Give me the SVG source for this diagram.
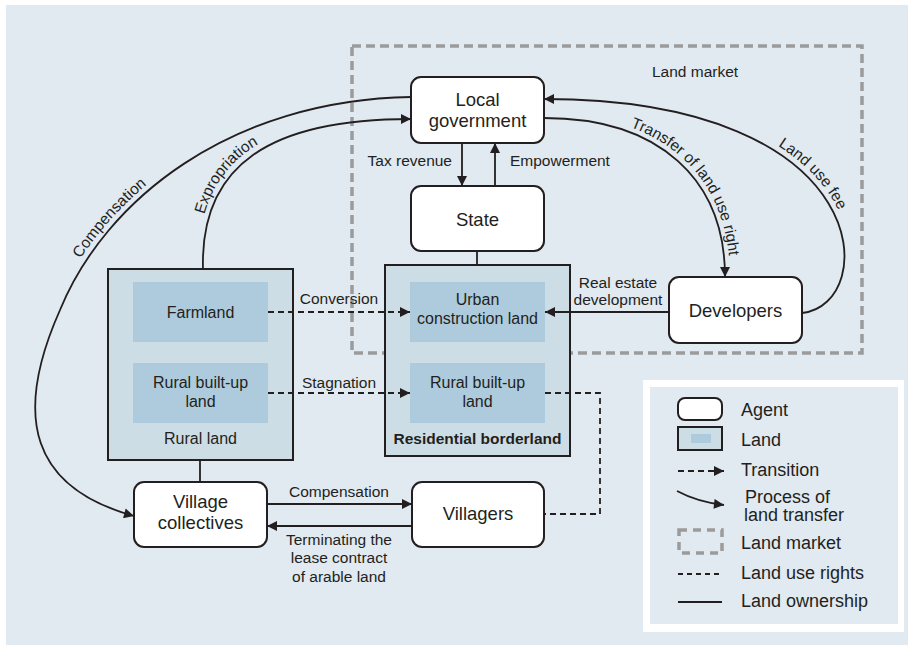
<svg xmlns="http://www.w3.org/2000/svg" width="908" height="645" viewBox="0 0 908 645">
<style>
  text { font-family: "Liberation Sans", Arial, sans-serif; fill: #231f20; }
  .nl { font-size: 18.5px; text-anchor: middle; }
  .ll { font-size: 16px; text-anchor: middle; }
  .el { font-size: 15.5px; }
  .lg { font-size: 18px; }
  .node { fill: #ffffff; stroke: #231f20; stroke-width: 2; }
  .land { fill: #cddde6; stroke: #231f20; stroke-width: 2; }
  .inner { fill: #adcbdc; }
  .conn { fill: none; stroke: #231f20; stroke-width: 1.8; }
  .dash { stroke-dasharray: 6 4; }
  .market { fill: none; stroke: #9b9b9b; stroke-width: 3.5; stroke-dasharray: 9 5; }
</style>
<defs>
  <marker id="ah" viewBox="0 0 10 10" refX="10" refY="5" markerWidth="11" markerHeight="10" markerUnits="userSpaceOnUse" orient="auto">
    <path d="M0,0 L10,5 L0,10 z" fill="#231f20"/>
  </marker>
  <path id="pComp" d="M55,307 C100,197 227,96 407,93"/>
  <path id="pExp" d="M199,265 C196,161 266,114 404,114"/>
  <path id="pTr" d="M543,113 C665,113 730,178 730,277"/>
  <path id="pFee" d="M546,93 C886,93 886,306 806,318"/>
</defs>

<rect x="6" y="5" width="902" height="640" fill="#e1e9f1"/>

<g id="land-market">
  <rect class="market" x="352" y="46" width="510" height="307"/>
  <text class="el" x="652" y="77">Land market</text>
</g>

<g id="rural-land">
  <rect class="land" x="108" y="269" width="185" height="191"/>
  <text class="ll" x="200.5" y="444">Rural land</text>
</g>
<g id="farmland">
  <rect class="inner" x="133" y="282" width="135" height="60"/>
  <text class="ll" x="200.5" y="318">Farmland</text>
</g>
<g id="rural-builtup-1">
  <rect class="inner" x="133" y="363" width="135" height="60"/>
  <text class="ll" x="200.5" y="388">Rural built-up</text>
  <text class="ll" x="200.5" y="407">land</text>
</g>

<g id="residential">
  <rect class="land" x="385" y="265" width="185" height="191"/>
  <text class="ll" x="477.5" y="444" style="font-weight:bold;font-size:15.5px">Residential borderland</text>
</g>
<g id="urban">
  <rect class="inner" x="410" y="282" width="135" height="60"/>
  <text class="ll" x="477.5" y="305">Urban</text>
  <text class="ll" x="477.5" y="324">construction land</text>
</g>
<g id="rural-builtup-2">
  <rect class="inner" x="410" y="363" width="135" height="60"/>
  <text class="ll" x="477.5" y="388">Rural built-up</text>
  <text class="ll" x="477.5" y="407">land</text>
</g>

<g id="local-government">
  <rect class="node" x="411" y="77" width="133" height="66" rx="10"/>
  <text class="nl" x="477.5" y="106">Local</text>
  <text class="nl" x="477.5" y="127">government</text>
</g>
<g id="state">
  <rect class="node" x="411" y="186" width="133" height="65" rx="10"/>
  <text class="nl" x="477.5" y="226">State</text>
</g>
<g id="developers">
  <rect class="node" x="669" y="277" width="133" height="66" rx="10"/>
  <text class="nl" x="735.5" y="317">Developers</text>
</g>
<g id="village-collectives">
  <rect class="node" x="134" y="482" width="133" height="65" rx="10"/>
  <text class="nl" x="200.5" y="508">Village</text>
  <text class="nl" x="200.5" y="529">collectives</text>
</g>
<g id="villagers">
  <rect class="node" x="412" y="482" width="132" height="65" rx="10"/>
  <text class="nl" x="478" y="520">Villagers</text>
</g>

<g id="connectors">
  <path class="conn" d="M462,143 V186" marker-end="url(#ah)"/>
  <path class="conn" d="M495,186 V143" marker-end="url(#ah)"/>
  <path class="conn" d="M477,251 V265"/>
  <path class="conn" d="M669,312 H545" marker-end="url(#ah)"/>
  <path class="conn dash" d="M268,312 H410" marker-end="url(#ah)"/>
  <path class="conn dash" d="M268,393 H410" marker-end="url(#ah)"/>
  <path class="conn dash" d="M545,393 H600 V514 H544"/>
  <path class="conn" d="M267,504 H412" marker-end="url(#ah)"/>
  <path class="conn" d="M412,526 H267" marker-end="url(#ah)"/>
  <path class="conn" d="M200,460 V482"/>
  <path class="conn" d="M203,269 C200,165 270,119 411,119" marker-end="url(#ah)"/>
  <path class="conn" d="M411,97 C230,100 105,200 60,310 C12,418 32,488 134,516" marker-end="url(#ah)"/>
  <path class="conn" d="M544,118 C660,118 725,180 725,277" marker-end="url(#ah)"/>
  <path class="conn" d="M802,313 C880,305 880,99 544,99" marker-end="url(#ah)"/>

  <text class="el" x="452" y="166" text-anchor="end">Tax revenue</text>
  <text class="el" x="510" y="166">Empowerment</text>
  <text class="el" x="618" y="288" text-anchor="middle">Real estate</text>
  <text class="el" x="618" y="305" text-anchor="middle">development</text>
  <text class="el" x="339" y="304" text-anchor="middle">Conversion</text>
  <text class="el" x="339" y="388" text-anchor="middle">Stagnation</text>
  <text class="el" x="339" y="497" text-anchor="middle">Compensation</text>
  <text class="el" x="339" y="545" text-anchor="middle">Terminating the</text>
  <text class="el" x="339" y="563" text-anchor="middle">lease contract</text>
  <text class="el" x="339" y="582" text-anchor="middle">of arable land</text>
  <text class="el" text-anchor="middle"><textPath href="#pComp" startOffset="24%">Compensation</textPath></text>
  <text class="el" text-anchor="middle"><textPath href="#pExp" startOffset="33%">Expropriation</textPath></text>
  <text class="el" text-anchor="middle"><textPath href="#pTr" startOffset="62%">Transfer of land use right</textPath></text>
  <text class="el" text-anchor="middle"><textPath href="#pFee" startOffset="62%">Land use fee</textPath></text>
</g>

<g id="legend">
  <rect x="643" y="380" width="261" height="252" fill="#ffffff"/>
  <rect x="650" y="387" width="248" height="237" fill="#e1e9f1"/>
  <rect class="node" x="678" y="398" width="44" height="22" rx="7"/>
  <text class="lg" x="741" y="416">Agent</text>
  <rect class="land" x="678" y="427" width="44" height="23"/>
  <rect class="inner" x="691" y="434" width="20" height="9"/>
  <text class="lg" x="741" y="446">Land</text>
  <path class="conn dash" d="M678,471 H724" marker-end="url(#ah)"/>
  <text class="lg" x="741" y="476">Transition</text>
  <path class="conn" d="M677,491 C692,499 706,503 724,505" marker-end="url(#ah)"/>
  <text class="lg" x="745" y="503">Process of</text>
  <text class="lg" x="744" y="521">land transfer</text>
  <rect class="market" x="679" y="530" width="43" height="23" style="stroke-dasharray:8 6"/>
  <text class="lg" x="741" y="549">Land market</text>
  <path class="conn" d="M678,574 H722" style="stroke-dasharray:5 4"/>
  <text class="lg" x="741" y="579">Land use rights</text>
  <path class="conn" d="M678,602 H722"/>
  <text class="lg" x="741" y="607">Land ownership</text>
</g>
</svg>
